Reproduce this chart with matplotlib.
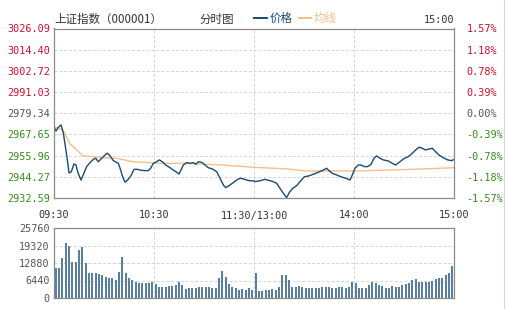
import matplotlib
matplotlib.use("Agg")
import matplotlib.pyplot as plt
from matplotlib.lines import Line2D

plt.rcParams['font.family'] = ['Noto Sans CJK SC', 'DejaVu Sans']

# minutes since 09:30 (11:30 and 13:00 share minute 120)
price_min = [0, 1.2, 2.4, 4.2, 5.6, 7.6, 9, 10.4, 12, 13.2, 14.4, 16.2, 18, 19.6, 21.6, 23.6,
             25, 26.6, 28.6, 30.6, 32, 33.6, 35.6, 38.6, 40, 41.2, 42.6, 44.2, 46.2, 48, 50, 52,
             54.2, 56.6, 58, 59.6, 61.6, 63.2, 65, 67, 69.6, 71.6, 73.6, 75, 76.2, 77.6, 79.6,
             81.6, 83.6, 85, 86.6, 88.6, 90.6, 92.6, 95, 97.6, 99.6, 101.6, 103, 105, 107, 109.6,
             111.6, 113.6, 115.6, 117.6, 120.2, 120.6, 123.6, 126.6, 129.6, 131.6, 133.6, 135.6,
             137.6, 139.6, 141.2, 143.2, 145.6, 147.6, 150.2, 152.6, 155.6, 158.6, 161.6, 163.6,
             165, 167, 169.6, 172.2, 175, 177.6, 179, 180.6, 182.6, 184.2, 186.2, 188.2, 190.2,
             192.2, 193.6, 195.6, 197.6, 200.6, 203, 205, 207.6, 210.2, 212.6, 215, 217, 219,
             221, 223, 225, 227, 229, 231, 233.6, 236.2, 238.6, 240]
price = [2971.9, 2969.5, 2971.4, 2972.9, 2968.4, 2956.3, 2946.4, 2947.1, 2951.4, 2950.8, 2946.4,
         2942.5, 2946.4, 2949.9, 2952.1, 2953.9, 2954.5, 2952.6, 2954.5, 2956.3, 2957.3, 2955.9,
         2953.2, 2951.7, 2948.0, 2944.3, 2941.3, 2942.5, 2944.9, 2948.4, 2948.4, 2947.9, 2947.7,
         2947.7, 2949.0, 2951.7, 2952.6, 2953.6, 2952.6, 2950.8, 2949.3, 2948.0, 2946.8, 2945.8,
         2948.0, 2950.8, 2952.1, 2951.7, 2952.1, 2951.2, 2952.6, 2952.3, 2950.8, 2949.3, 2948.6,
         2947.1, 2943.5, 2939.8, 2938.3, 2939.4, 2940.7, 2942.5, 2943.5, 2943.1, 2942.5, 2942.1,
         2942.0, 2941.6, 2942.1, 2942.9, 2942.1, 2941.6, 2940.7, 2937.9, 2935.2, 2932.8, 2935.7,
         2937.9, 2939.4, 2941.6, 2944.3, 2944.7, 2945.7, 2946.8, 2948.0, 2949.0, 2947.7, 2946.2,
         2945.3, 2944.3, 2943.5, 2942.5, 2945.3, 2949.0, 2950.8, 2950.8, 2949.9, 2949.9, 2951.2,
         2954.8, 2955.8, 2954.5, 2953.6, 2953.0, 2951.7, 2950.8, 2952.6, 2954.5, 2955.4, 2957.3,
         2959.1, 2960.6, 2960.0, 2959.1, 2959.6, 2960.0, 2958.1, 2956.3, 2954.8, 2953.6, 2953.2,
         2953.9]

avg_min = [0, 5.4, 9.6, 13.6, 17.4, 23.4, 29.4, 37.6, 47.4, 57.6, 63.6, 80.4, 100.6, 120.6,
           140.4, 150.6, 180.6, 200.4, 220.6, 240]
avg = [2971.9, 2970.1, 2962.4, 2959.1, 2955.9, 2955.4, 2954.8, 2954.5, 2952.6, 2952.1, 2951.7,
       2951.7, 2950.8, 2949.5, 2948.6, 2947.5, 2947.5, 2948.0, 2948.6, 2949.3]

# volume, one bar per two minutes
vol = [11170, 11170, 14600, 20120, 19260, 13370, 13370, 17670, 18900, 12760, 9330, 9080, 9080,
       8710, 8470, 7850, 7240, 7240, 6630, 9690, 15210, 9080, 7480, 6630, 5770, 5400, 5400, 5400,
       5400, 5770, 5030, 4170, 4170, 4170, 4420, 4420, 4790, 5770, 4790, 3310, 3800, 3560, 3560,
       4170, 4170, 3930, 3930, 3560, 3800, 7240, 10060, 7850, 5030, 4170, 3560, 2940, 3190, 2940,
       3560, 2940,
       9080, 2700, 2700, 2820, 2940, 3310, 2940, 4170, 8470, 8470, 6630, 4170, 4170, 4420, 4170,
       3800, 3560, 3560, 3560, 3800, 4170, 4170, 4170, 3560, 3800, 3930, 4170, 3800, 4170, 6010,
       5400, 3560, 3560, 3800, 4790, 5770, 5400, 4790, 4420, 3800, 3800, 4420, 4170, 4170, 4790,
       5030, 5400, 6630, 6990, 6010, 5770, 6010, 6010, 6260, 6870, 7240, 7480, 8470, 9080, 11900]

price_ticks = [2932.59, 2944.27, 2955.96, 2967.65, 2979.34, 2991.03, 3002.72, 3014.40, 3026.09]
pct_labels = ["-1.57%", "-1.18%", "-0.78%", "-0.39%", "0.00%", "0.39%", "0.78%", "1.18%", "1.57%"]
base = 2979.34
time_ticks = [0, 60, 120, 180, 240]
time_labels = ["09:30", "10:30", "11:30/13:00", "14:00", "15:00"]
vol_ticks = [0, 6440, 12880, 19320, 25760]

RED = "#c8102e"
GREEN = "#3a8a1e"
GRAY = "#555555"
FRAME = "#8a8a8a"
mono = "DejaVu Sans Mono"

fig = plt.figure(figsize=(5.08, 3.09), dpi=100)
W, H = 508.0, 309.0

ax = fig.add_axes([54 / W, 1 - 198 / H, 400 / W, 169.5 / H])
ax.plot(avg_min, avg, color="#f2c08c", lw=1.0)
ax.plot(price_min, price, color="#1b4a72", lw=1.0)
ax.set_xlim(0, 240)
ax.set_ylim(price_ticks[0], price_ticks[-1])
ax.set_yticks(price_ticks)
ax.set_yticklabels([f"{v:.2f}" for v in price_ticks], family=mono, fontsize=7.3)
for lab, v in zip(ax.get_yticklabels(), price_ticks):
    lab.set_color(RED if v > base + 0.01 else (GREEN if v < base - 0.01 else GRAY))
ax.set_xticks(time_ticks)
ax.set_xticklabels(time_labels, family=mono, fontsize=7.3, color="#333333")
ax.tick_params(axis="both", length=0)
ax.tick_params(axis="y", pad=3)
ax.tick_params(axis="x", pad=9)
ax.grid(True, color="#d4d4d4", linestyle=(0, (3, 2)), lw=0.7)
for s in ax.spines.values():
    s.set_color(FRAME)
    s.set_linewidth(0.9)

ax2 = ax.twinx()
ax2.set_ylim(ax.get_ylim())
ax2.set_yticks(price_ticks)
ax2.set_yticklabels(pct_labels, family=mono, fontsize=7.3)
for lab, v in zip(ax2.get_yticklabels(), price_ticks):
    lab.set_color(RED if v > base + 0.01 else (GREEN if v < base - 0.01 else GRAY))
ax2.tick_params(axis="y", length=0, pad=9)
for s in ax2.spines.values():
    s.set_visible(False)

vax = fig.add_axes([54 / W, 11 / H, 400 / W, 70 / H])
bar_x = [2 * i + 1 for i in range(len(vol))]
vax.bar(bar_x, vol, width=1.15, color="#5a7e9d", edgecolor="none")
vax.set_xlim(0, 240)
vax.set_ylim(0, vol_ticks[-1])
vax.set_yticks(vol_ticks)
vax.set_yticklabels([str(v) for v in vol_ticks], family=mono, fontsize=7.3, color=GRAY)
vax.set_xticks(time_ticks)
vax.set_xticklabels([])
vax.tick_params(axis="both", length=0)
vax.tick_params(axis="y", pad=3)
vax.grid(True, color="#d4d4d4", linestyle=(0, (3, 2)), lw=0.7)
vax.set_axisbelow(True)
for s in vax.spines.values():
    s.set_color(FRAME)
    s.set_linewidth(0.9)

# header
fig.text(54 / W, 1 - 19 / H, "上证指数（000001）", fontsize=8.3, color="#333333", va="center")
fig.text(199 / W, 1 - 19 / H, "分时图", fontsize=8.3, color="#333333", va="center")
fig.add_artist(Line2D([254 / W, 267 / W], [1 - 18 / H] * 2, color="#1b4a72", lw=1.4))
fig.text(270 / W, 1 - 18.5 / H, "价格", fontsize=8.3, color="#1b4a72", va="center")
fig.add_artist(Line2D([299 / W, 311 / W], [1 - 18 / H] * 2, color="#f2c08c", lw=1.4))
fig.text(314 / W, 1 - 18.5 / H, "均线", fontsize=8.3, color="#f2c08c", va="center")
fig.text(454 / W, 1 - 20 / H, "15:00", family=mono, fontsize=7.3, color="#333333",
         ha="right", va="center")
fig.add_artist(Line2D([504 / W] * 2, [0, 1], color="#d8d8d8", lw=0.8))

fig.savefig("out.png", dpi=100)
